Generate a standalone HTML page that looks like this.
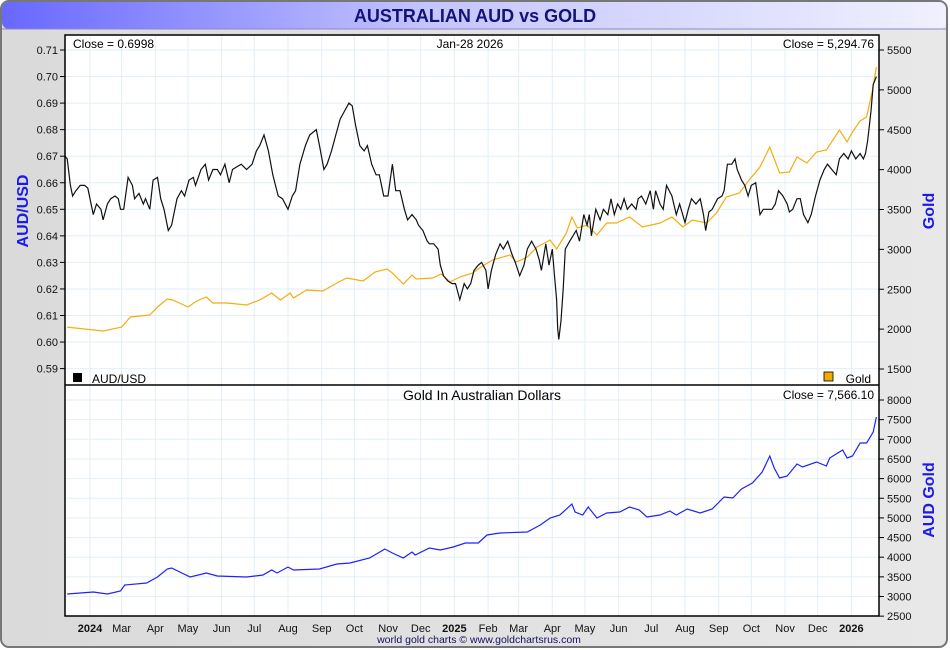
<!DOCTYPE html>
<html><head><meta charset="utf-8"><style>
html,body{margin:0;padding:0;background:#fff;}
svg{display:block;font-family:"Liberation Sans",Arial,sans-serif;}
</style></head><body>
<svg id="chart" width="950" height="650" viewBox="0 0 950 650">
<defs>
<linearGradient id="tb" x1="0" x2="1" y1="0" y2="0"><stop offset="0" stop-color="#6868ff"/><stop offset="0.45" stop-color="#c4c4ff"/><stop offset="1" stop-color="#f0f0ff"/></linearGradient>
<linearGradient id="bg" x1="0" x2="1" y1="0" y2="0"><stop offset="0" stop-color="#dadada"/><stop offset="1" stop-color="#e8e8e8"/></linearGradient>
</defs>
<rect x="1" y="1" width="946" height="646" rx="8" fill="url(#bg)" stroke="#777" stroke-width="2"/>
<rect x="2" y="2" width="944" height="27" rx="7" fill="url(#tb)"/>
<line x1="2" y1="29" x2="946" y2="29" stroke="#8888cc" stroke-width="1"/>
<text x="475" y="22" text-anchor="middle" font-size="18" font-weight="bold" fill="#13137a">AUSTRALIAN AUD vs GOLD</text>
<rect x="65" y="35" width="814" height="581" fill="#fff"/>
<g id="grid"></g>
<g id="marks"></g>
<rect x="65" y="35" width="814" height="581" fill="none" stroke="#000" stroke-width="1.5"/>
<line x1="65" y1="385" x2="879" y2="385" stroke="#000" stroke-width="1.5"/>
<g id="axes" font-size="11" fill="#111"></g>
<text x="73" y="48" font-size="12">Close = 0.6998</text>
<text x="470" y="48" font-size="12" text-anchor="middle">Jan-28  2026</text>
<text x="874" y="48" font-size="12" text-anchor="end">Close = 5,294.76</text>
<rect x="73" y="373" width="9" height="9" fill="#000"/>
<text x="92" y="383" font-size="12">AUD/USD</text>
<rect x="824" y="372" width="9" height="9" fill="#f5a800" stroke="#000" stroke-width="0.8"/>
<text x="871" y="383" font-size="12" text-anchor="end">Gold</text>
<text x="482" y="400" font-size="14" text-anchor="middle">Gold In Australian Dollars</text>
<text x="874" y="399" font-size="12" text-anchor="end">Close = 7,566.10</text>
<text transform="translate(28,211) rotate(-90)" font-size="16" font-weight="bold" fill="#1a1aee" text-anchor="middle">AUD/USD</text>
<text transform="translate(934,211) rotate(-90)" font-size="16" font-weight="bold" fill="#1a1aee" text-anchor="middle">Gold</text>
<text transform="translate(934,500) rotate(-90)" font-size="16" font-weight="bold" fill="#1a1aee" text-anchor="middle">AUD Gold</text>
<text x="479" y="643" font-size="10.5" text-anchor="middle" fill="#101060">world gold charts © www.goldchartsrus.com</text>
</svg>
<script>
const audTicks=[0.71,0.70,0.69,0.68,0.67,0.66,0.65,0.64,0.63,0.62,0.61,0.60,0.59];
const goldTicks=[5500,5000,4500,4000,3500,3000,2500,2000,1500];
const audGoldTicks=[8000,7500,7000,6500,6000,5500,5000,4500,4000,3500,3000,2500];
const monthLabels=["2024","Mar","Apr","May","Jun","Jul","Aug","Sep","Oct","Nov","Dec","2025","Feb","Mar","Apr","May","Jun","Jul","Aug","Sep","Oct","Nov","Dec","2026"];
const monthDates=["2024-02-01","2024-03-01","2024-04-01","2024-05-01","2024-06-01","2024-07-01","2024-08-01","2024-09-01","2024-10-01","2024-11-01","2024-12-01","2025-01-01","2025-02-01","2025-03-01","2025-04-01","2025-05-01","2025-06-01","2025-07-01","2025-08-01","2025-09-01","2025-10-01","2025-11-01","2025-12-01","2026-01-01"];
// days since 2024-01-09
const audDays=[0,2,5,7,10,14,18,21,26,29,33,35,39,42,46,49,51,54,58,62,64,68,72,74,78,81,85,88,91,95,98,103,107,110,114,118,120,125,129,132,136,140,143,147,151,154,158,162,167,172,176,179,183,187,191,196,200,205,209,212,216,221,225,231,234,238,241,245,249,253,257,261,264,267,271,275,278,282,286,289,293,297,299,301,304,308,312,315,319,323,325,329,333,335,339,343,345,348,352,356,359,363,367,370,373,376,380,383,387,389,392,396,400,403,407,411,414,418,422,425,429,433,436,438,442,445,448,450,452,453,454,456,458,460,464,467,470,473,477,480,482,484,488,492,495,499,502,505,508,511,514,517,521,525,527,530,534,538,541,543,547,550,553,558,562,565,570,573,576,580,584,587,589,592,595,600,604,606,609,613,616,618,622,625,628,631,635,639,642,646,650,653,656,660,664,666,669,673,676,679,683,686,690,694,698,701,705,709,712,716,720,723,727,731,734,736,738,741,743,746];
const audValues=[.670,.669,.659,.655,.657,.659,.659,.658,.648,.652,.650,.646,.652,.654,.655,.654,.650,.650,.662,.659,.654,.656,.652,.654,.650,.661,.662,.654,.650,.642,.644,.654,.657,.655,.661,.662,.659,.665,.667,.661,.665,.665,.663,.667,.660,.665,.666,.667,.665,.667,.672,.674,.678,.672,.663,.655,.654,.650,.655,.657,.667,.674,.678,.680,.674,.665,.667,.672,.678,.684,.687,.690,.689,.682,.674,.672,.674,.667,.663,.663,.655,.655,.661,.667,.657,.657,.650,.646,.648,.646,.644,.642,.638,.637,.637,.635,.629,.625,.623,.622,.622,.616,.622,.620,.622,.627,.629,.630,.627,.620,.627,.633,.637,.635,.638,.633,.630,.625,.629,.635,.638,.635,.631,.627,.637,.629,.635,.625,.616,.605,.601,.608,.620,.635,.638,.640,.642,.638,.648,.644,.648,.640,.650,.646,.650,.648,.654,.648,.652,.650,.654,.650,.652,.650,.654,.655,.652,.657,.650,.657,.652,.650,.659,.655,.648,.652,.645,.650,.654,.652,.654,.648,.642,.649,.650,.654,.655,.657,.667,.667,.669,.665,.661,.659,.655,.659,.660,.648,.650,.650,.650,.652,.657,.655,.652,.649,.650,.654,.654,.648,.645,.648,.655,.661,.665,.667,.665,.663,.669,.671,.669,.672,.669,.671,.669,.671,.676,.687,.697,.700];
const goldDays=[2,35,52,60,78,85,94,99,113,121,130,136,149,167,179,190,198,207,210,222,237,250,259,274,285,296,301,311,319,323,338,346,354,363,375,381,393,409,415,425,434,446,452,461,466,471,480,489,498,507,519,531,547,558,568,577,590,599,608,620,629,639,648,657,666,673,682,691,700,712,719,724,731,737,742,746];
const goldValues=[2026,1976,2026,2152,2177,2277,2378,2365,2277,2352,2403,2327,2327,2302,2365,2453,2365,2453,2390,2490,2478,2578,2641,2603,2716,2754,2704,2566,2678,2628,2641,2691,2591,2653,2704,2766,2867,2929,2842,2904,3030,3117,3005,3205,3406,3268,3306,3180,3331,3331,3406,3280,3331,3406,3280,3368,3331,3456,3657,3707,3870,4033,4284,3958,3970,4158,4083,4221,4246,4497,4346,4472,4610,4660,4973,5287];
const audGoldDays=[2,26,39,51,55,75,85,94,98,115,130,140,167,182,190,195,205,210,234,250,262,280,294,301,311,319,322,335,345,357,368,380,388,400,425,437,446,455,466,469,476,481,489,498,510,519,528,535,547,556,562,572,584,595,606,614,622,632,641,648,652,657,664,673,678,691,700,703,715,719,724,731,737,743,746];
const audGoldValues=[3063,3114,3063,3139,3292,3343,3495,3699,3724,3495,3597,3521,3495,3546,3674,3597,3750,3674,3699,3826,3852,3979,4208,4106,3979,4132,4055,4233,4183,4259,4361,4361,4564,4615,4641,4819,4997,5073,5353,5150,5073,5277,4997,5124,5150,5277,5201,5022,5073,5175,5073,5226,5124,5226,5531,5506,5735,5888,6168,6575,6270,6015,6066,6371,6295,6422,6320,6524,6728,6524,6575,6906,6906,7186,7567];

const NS="http://www.w3.org/2000/svg";
const X0=65,X1=879;
const startMs=Date.UTC(2024,0,9);
function xDay(d){return X0+d*1.0877;}
function yAud(v){return 50+(0.71-v)*2655;}
function yGold(v){return 50+(5500-v)*0.07975;}
function yAudGold(v){return 400+(8000-v)*0.0393;}
function mk(tag,attrs,parent){const e=document.createElementNS(NS,tag);for(const k in attrs)e.setAttribute(k,attrs[k]);parent.appendChild(e);return e;}
const grid=document.getElementById('grid'),marks=document.getElementById('marks'),axes=document.getElementById('axes');

monthDates.forEach((s,i)=>{
  const p=s.split('-');const d=(Date.UTC(+p[0],+p[1]-1,+p[2])-startMs)/864e5;const x=xDay(d);
  const g=mk('line',{x1:x,x2:x,y1:35,y2:616,stroke:'#e2eff8','stroke-width':1},grid);
  
  
  const t=mk('text',{x:x,y:632,'text-anchor':'middle','font-size':11},axes);
  t.textContent=monthLabels[i];
  if(/^\d{4}$/.test(monthLabels[i]))t.setAttribute('font-weight','bold');
  
  
});
audTicks.forEach(v=>{
  const y=yAud(v);
  const g=mk('line',{x1:X0,x2:X1,y1:y,y2:y,stroke:'#e2eff8','stroke-width':1},grid);
  
  
  mk('line',{x1:60,x2:65,y1:y,y2:y,stroke:'#000'},axes);
  const t=mk('text',{x:58,y:y+4,'text-anchor':'end'},axes);
  t.textContent=v.toFixed(2);
  
  
});
goldTicks.forEach(v=>{
  const y=yGold(v);
  mk('line',{x1:879,x2:884,y1:y,y2:y,stroke:'#000'},axes);
  const t=mk('text',{x:887,y:y+4},axes);
  t.textContent=v;
  
  
});
audGoldTicks.forEach(v=>{
  const y=yAudGold(v);
  const g=mk('line',{x1:X0,x2:X1,y1:y,y2:y,stroke:'#e2eff8','stroke-width':1},grid);
  
  
  mk('line',{x1:879,x2:884,y1:y,y2:y,stroke:'#000'},axes);
  const t=mk('text',{x:887,y:y+4},axes);
  t.textContent=v;
  
  
});
function line(days,vals,yf,color,w){
  return days.map((d,i)=>(i?'L':'M')+xDay(d).toFixed(1)+','+yf(vals[i]).toFixed(1)).join('');
}
const pg=mk('path',{d:line(goldDays,goldValues,yGold),fill:'none',stroke:'#f5ad10','stroke-width':1.2},marks);


const pa=mk('path',{d:line(audDays,audValues,yAud),fill:'none',stroke:'#111','stroke-width':1.2},marks);


const pb=mk('path',{d:line(audGoldDays,audGoldValues,yAudGold),fill:'none',stroke:'#2020ff','stroke-width':1.2},marks);


</script>
</body></html>
